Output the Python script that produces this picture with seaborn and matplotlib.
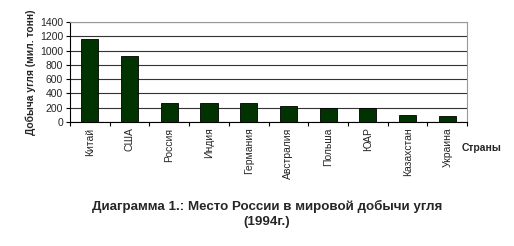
import matplotlib
matplotlib.use("Agg")
import matplotlib.pyplot as plt
import seaborn as sns
import pandas as pd
import numpy as np

countries = ["Китай", "США", "Россия", "Индия", "Германия", "Австралия",
             "Польша", "ЮАР", "Казахстан", "Украина"]
production = [1160, 930, 265, 265, 265, 220, 200, 200, 100, 85]
y_ticks = [0, 200, 400, 600, 800, 1000, 1200, 1400]

sns.set_theme(style="white")
plt.rcParams['font.family'] = ['Liberation Sans', 'DejaVu Sans']

df = pd.DataFrame({"country": countries, "value": production})

fig = plt.figure(figsize=(5.14, 2.46), dpi=100)
ax = fig.add_axes([0.136, 0.504, 0.773, 0.407])

sns.barplot(data=df, x="country", y="value", color="#003300", width=0.43,
            edgecolor="black", linewidth=0.6, saturation=1, ax=ax, zorder=3)

ax.set_ylim(0, 1400)
ax.set_xlim(-0.5, len(countries) - 0.5)
ax.set_yticks(y_ticks)
ax.set_yticklabels([str(v) for v in y_ticks], fontsize=7.5)
ax.yaxis.grid(True, color="#333333", linewidth=0.8, zorder=0)
ax.xaxis.grid(False)

ax.set_xticks(range(len(countries)))
ax.set_xticklabels(countries, rotation=90, fontsize=7.5, va="top")
ax.tick_params(axis="x", which="major", length=0, pad=4)
ax.set_xticks(np.arange(-0.5, len(countries), 1.0), minor=True)
ax.tick_params(axis="x", which="minor", length=3, width=0.8, color="black",
               direction="out", bottom=True)
ax.tick_params(axis="y", which="major", length=3, width=0.8, color="black",
               direction="out", left=True, pad=2)

for side in ["top", "right"]:
    ax.spines[side].set_color("#999999")
    ax.spines[side].set_linewidth(0.8)
for side in ["left", "bottom"]:
    ax.spines[side].set_color("black")
    ax.spines[side].set_linewidth(0.8)

ax.set_xlabel("")
ax.set_ylabel("Добыча угля (мил. тонн)", fontsize=7.4, fontweight="bold", labelpad=3)

fig.text(462 / 514, 1 - 148 / 246, "Страны", fontsize=7.5, fontweight="bold",
         ha="left", va="center")
fig.text(267 / 514, 1 - 214 / 246,
         "Диаграмма 1.: Место России в мировой добычи угля\n(1994г.)",
         fontsize=9.6, fontweight="bold", ha="center", va="center",
         linespacing=1.25)

fig.savefig("out.png", dpi=100)
